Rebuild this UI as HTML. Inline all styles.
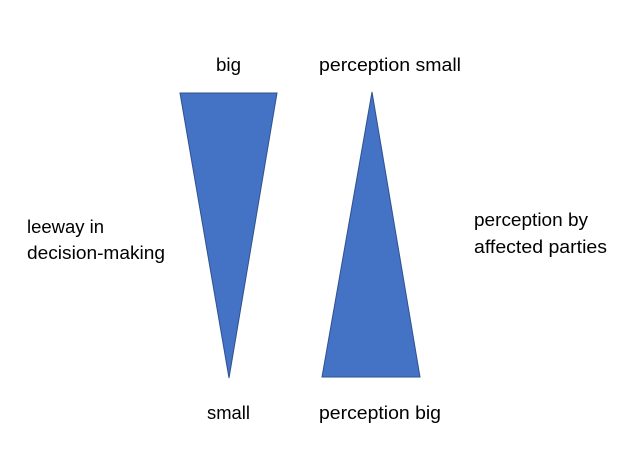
<!DOCTYPE html>
<html><head><style>html,body{margin:0;padding:0;background:#fff}svg{display:block}</style></head>
<body>
<svg width="640" height="461" viewBox="0 0 640 461" xmlns="http://www.w3.org/2000/svg" font-family="Liberation Sans, sans-serif" font-size="18" fill="#000">
<polygon points="180,93 277,93 229,378" fill="#4472C4" stroke="#2F528F" stroke-width="1"/>
<polygon points="372,92 420,377 322,377" fill="#4472C4" stroke="#2F528F" stroke-width="1"/>
<text x="216" y="71" textLength="25" lengthAdjust="spacingAndGlyphs">big</text>
<text x="319" y="71" textLength="142" lengthAdjust="spacingAndGlyphs">perception small</text>
<text x="207" y="419" textLength="43" lengthAdjust="spacingAndGlyphs">small</text>
<text x="319" y="419" textLength="122" lengthAdjust="spacingAndGlyphs">perception big</text>
<text x="27" y="233" textLength="77" lengthAdjust="spacingAndGlyphs">leeway in</text>
<text x="27" y="259" textLength="138" lengthAdjust="spacingAndGlyphs">decision-making</text>
<text x="474" y="226" textLength="114" lengthAdjust="spacingAndGlyphs">perception by</text>
<text x="474" y="253" textLength="133" lengthAdjust="spacingAndGlyphs">affected parties</text>
</svg>
</body></html>
